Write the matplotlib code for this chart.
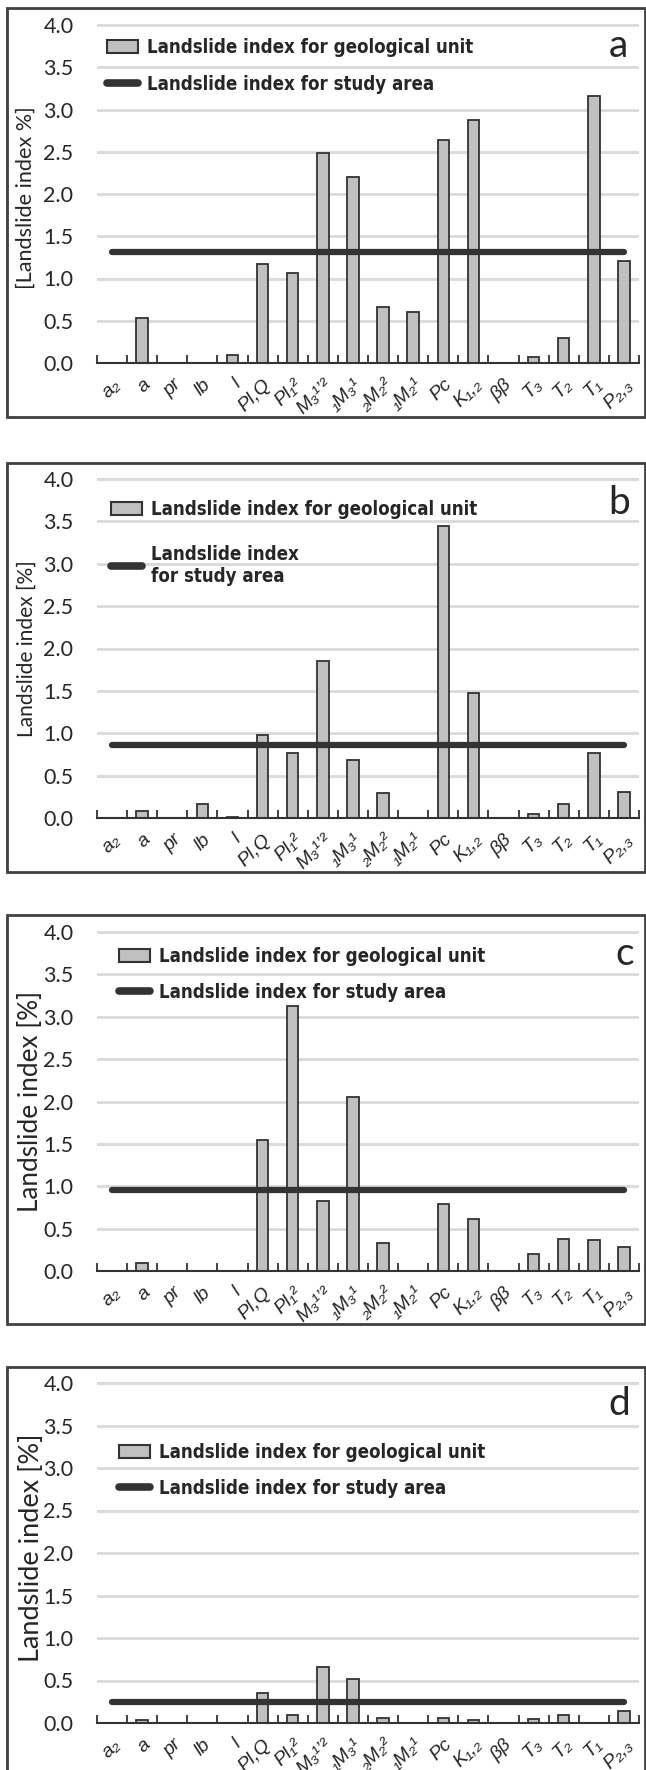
import matplotlib
matplotlib.use("Agg")
import matplotlib.pyplot as plt
import matplotlib.transforms as mtransforms
from matplotlib.patches import Patch, Rectangle
from matplotlib.lines import Line2D
from matplotlib.font_manager import FontProperties

# geological units (x axis)
units = ['a₂', 'a', 'pr', 'lb', 'l', 'Pl,Q', 'Pl₁²', 'M₃¹ʼ²', '₁M₃¹', '₂M₂²', '₁M₂¹',
         'Pc', 'K₁,₂', 'ββ', 'T₃', 'T₂', 'T₁', 'P₂,₃']

# landslide index for each geological unit [%]
li_a = [0, 0.53, 0, 0, 0.09, 1.17, 1.06, 2.49, 2.20, 0.66, 0.60, 2.64, 2.88, 0, 0.07, 0.30, 3.16, 1.21]
li_b = [0, 0.08, 0, 0.17, 0.01, 0.98, 0.77, 1.85, 0.68, 0.29, 0, 3.44, 1.47, 0, 0.05, 0.16, 0.77, 0.31]
li_c = [0, 0.09, 0, 0, 0, 1.55, 3.13, 0.83, 2.05, 0.33, 0, 0.79, 0.61, 0, 0.20, 0.38, 0.37, 0.28]
li_d = [0, 0.03, 0, 0, 0, 0.35, 0.09, 0.66, 0.52, 0.06, 0, 0.06, 0.04, 0, 0.05, 0.10, 0, 0.14]

# landslide index for whole study area [%]
area_a = 1.31
area_b = 0.86
area_c = 0.95
area_d = 0.25

panel_letters = ['a', 'b', 'c', 'd']
ylabels = ['[Landslide index %]', 'Landslide index [%]', 'Landslide index [%]', 'Landslide index [%]']
unit_label = 'Landslide index for geological unit'
area_labels = ['Landslide index for study area', 'Landslide index\nfor study area',
               'Landslide index for study area', 'Landslide index for study area']

W, H = 646, 1770


def fx(px):
    return px / W


def fy(py):
    return 1 - py / H


fig = plt.figure(figsize=(W / 100, H / 100), dpi=100)
renderer = fig.canvas.get_renderer()


def fit_size(text_obj, target_px):
    # scale font so the long side of the text is target_px long
    bb = text_obj.get_window_extent(renderer)
    longest = max(bb.width, bb.height)
    text_obj.set_fontsize(text_obj.get_fontsize() * target_px / longest)


# layout in pixels
zero_y = [363, 818, 1271, 1723]
top_y = [25, 479, 932, 1383]
box_y = [(8, 417), (463, 872), (915, 1324), (1367, 1790)]
leg_pos = [(107, 49, 0.95), (111, 511, 1.38), (119, 958, 0.9), (119, 1454, 0.9)]
ylab_pos = [(26, 198, 183), (27, 649, 178), (31, 1101, 222), (32, 1548, 230)]
letter_pos = [(628, 57), (630, 514), (634, 965), (630, 1415)]

bar_color = '#c0c0c0'
dark = '#333333'
txt_color = '#262626'

# legend font: bold narrow, sized so the first entry is ~330 px wide
leg_fp = FontProperties(family=['Liberation Sans Narrow', 'DejaVu Sans'], weight='bold',
                        stretch='condensed', size=14)
probe = fig.text(0, 0, unit_label, fontproperties=leg_fp)
pw = probe.get_window_extent(renderer).width
probe.remove()
leg_fp.set_size(14 * 330 / pw)
leg_px = leg_fp.get_size_in_points() * 100 / 72

series = [li_a, li_b, li_c, li_d]
areas = [area_a, area_b, area_c, area_d]
x = list(range(len(units)))

for i in range(4):
    y0, y4 = zero_y[i], top_y[i]
    ppu = (y0 - y4) / 4.0
    ymax = 4.06
    ytop = y0 - ppu * ymax
    ax = fig.add_axes([fx(97), fy(y0), (639 - 97) / W, (y0 - ytop) / H])

    ax.bar(x, series[i], width=0.38, color=bar_color, edgecolor=dark, linewidth=1.3, zorder=3)
    ax.plot([x[0], x[-1]], [areas[i], areas[i]], color=dark, lw=4.5,
            solid_capstyle='round', zorder=4)

    ax.set_xlim(-0.5, len(units) - 0.5)
    ax.set_ylim(0, ymax)
    ax.set_yticks([0, 0.5, 1.0, 1.5, 2.0, 2.5, 3.0, 3.5, 4.0])
    ax.set_yticklabels(['0.0', '0.5', '1.0', '1.5', '2.0', '2.5', '3.0', '3.5', '4.0'],
                       family='Lato', fontsize=15.5, color=txt_color)
    ax.yaxis.grid(True, color='#d9d9d9', lw=2, zorder=0)
    ax.set_axisbelow(True)
    for s in ['top', 'right', 'left']:
        ax.spines[s].set_visible(False)
    ax.spines['bottom'].set_color(dark)
    ax.spines['bottom'].set_linewidth(1.5)
    ax.spines['bottom'].set_zorder(5)
    ax.tick_params(axis='y', length=0, pad=17)

    # boundaries between units as inward ticks, unit names drawn as rotated text
    ax.set_xticks([k - 0.5 for k in range(len(units) + 1)])
    ax.set_xticklabels([])
    ax.tick_params(axis='x', length=6, width=1.3, direction='in', color=dark)
    lab_trans = ax.get_xaxis_transform() + mtransforms.ScaledTranslation(
        0.12, -0.13, fig.dpi_scale_trans)
    for k, name in enumerate(units):
        ax.text(x[k], 0, name, transform=lab_trans, rotation=45.0, ha='right', va='top',
                fontsize=14, style='italic',
                family=['Liberation Sans', 'DejaVu Sans'], color=txt_color, clip_on=False)

    # legend
    lx, ly, lsp = leg_pos[i]
    handles = [Patch(facecolor=bar_color, edgecolor=dark, linewidth=1.5),
               Line2D([], [], color=dark, lw=5.5, solid_capstyle='round')]
    leg = ax.legend(handles, [unit_label, area_labels[i]],
                    loc='upper left', bbox_to_anchor=(fx(lx), fy(ly - leg_px * 0.6)),
                    bbox_transform=fig.transFigure, frameon=False, borderpad=0,
                    borderaxespad=0, handlelength=31 / leg_px, handleheight=13 / leg_px,
                    handletextpad=0.5, labelspacing=lsp, prop=leg_fp)
    for t in leg.get_texts():
        t.set_color(txt_color)

    # panel letter and y label
    px, py = letter_pos[i]
    fig.text(fx(px), fy(py), panel_letters[i], ha='right', va='baseline',
             family='Lato', fontsize=28, color=txt_color)
    yx, yy, ylen = ylab_pos[i]
    yl = fig.text(fx(yx), fy(yy), ylabels[i], rotation=90, ha='center', va='center',
                  family='Lato', fontsize=14, color=txt_color)
    fit_size(yl, ylen)

    # frame around panel
    b0, b1 = box_y[i]
    fig.add_artist(Rectangle((fx(7), fy(b1)), fx(645) - fx(7), (b1 - b0) / H,
                             transform=fig.transFigure, fill=False,
                             edgecolor='#404040', lw=2))

fig.savefig('out.png', dpi=100)
